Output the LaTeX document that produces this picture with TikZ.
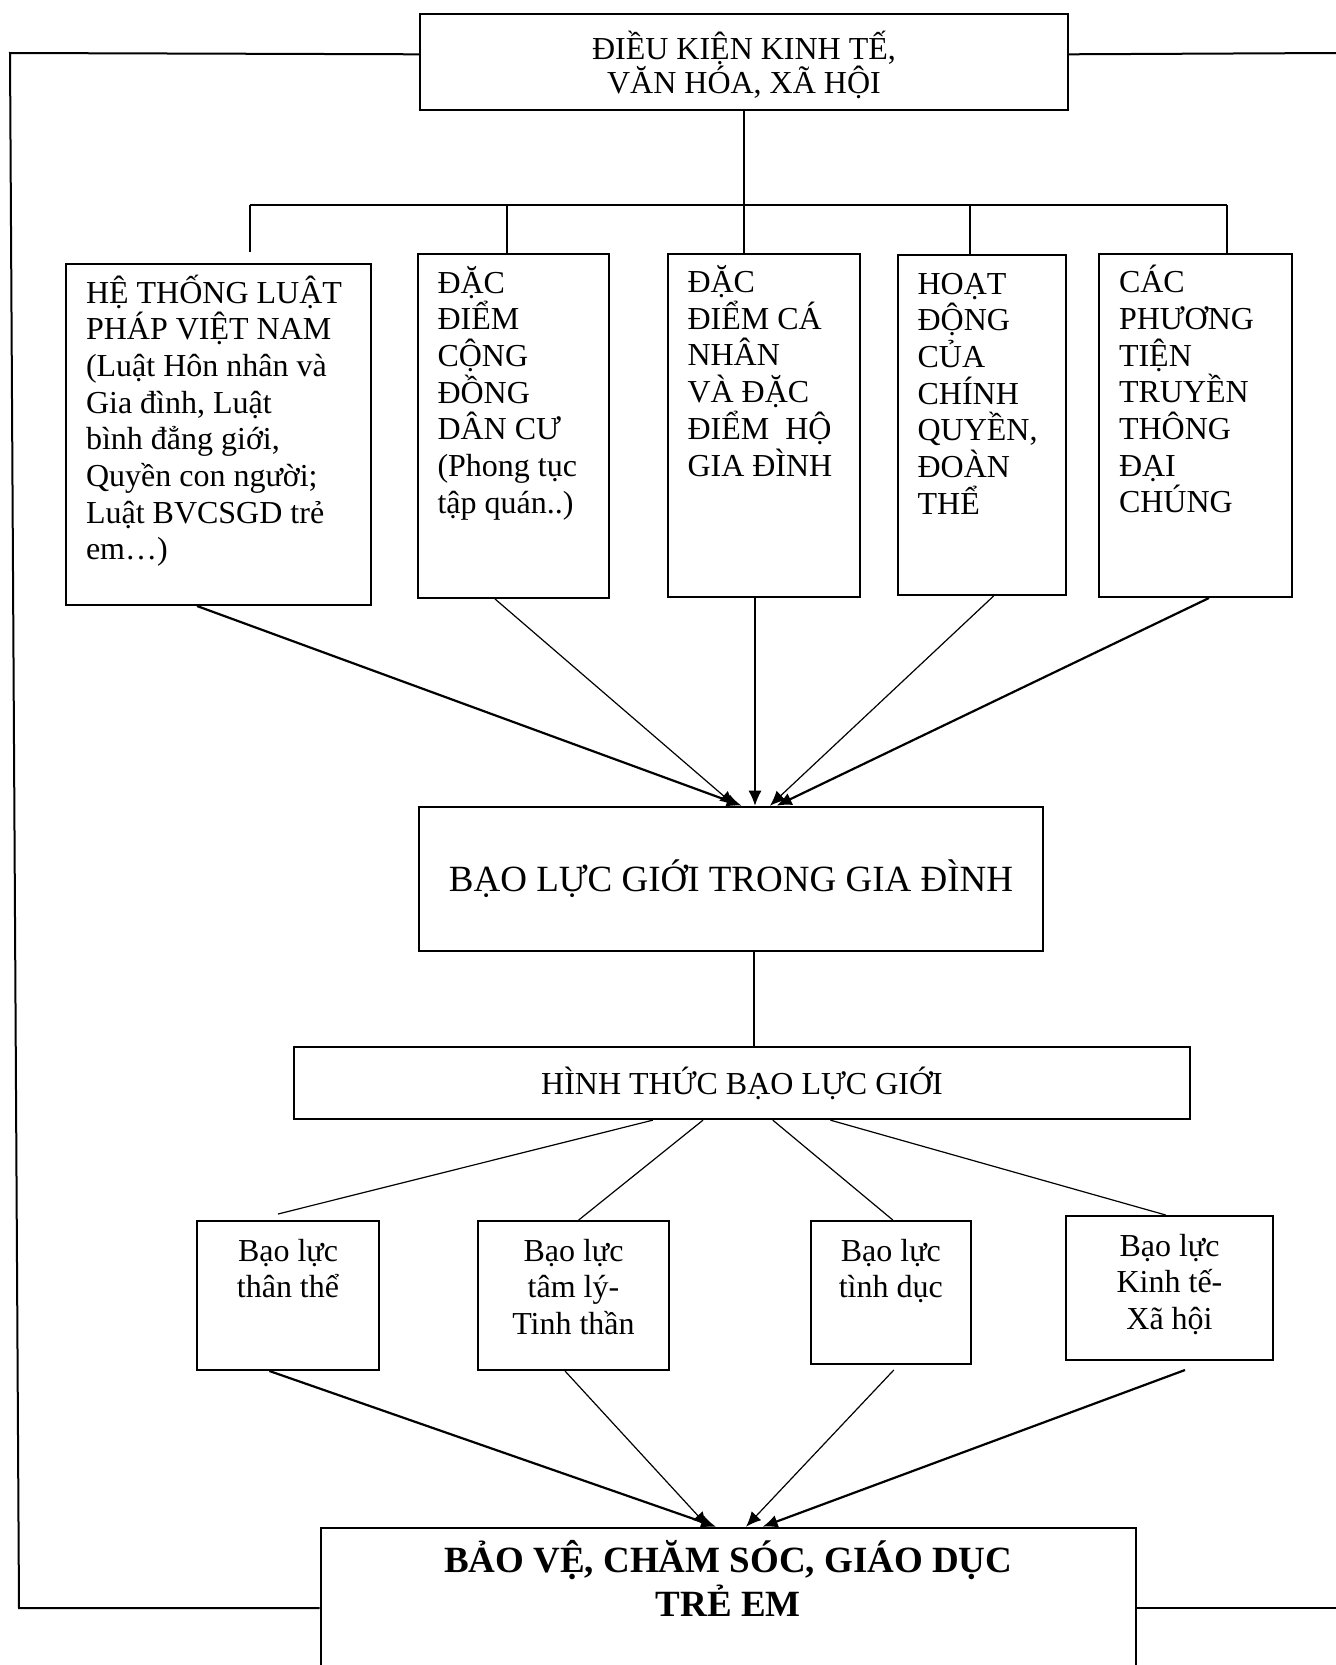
\documentclass[tikz,border=0pt]{standalone}
\usepackage{fontspec}
\setmainfont{Liberation Serif}
\usetikzlibrary{arrows.meta}
\newcommand{\khung}[5]{\parbox[t][#2][t]{#1}{#3\rule{0pt}{#4}#5}}

\begin{document}
\begin{tikzpicture}[x=0.5pt,y=-0.5pt,>={Latex[length=7.5pt,width=6.5pt]}]
	\tikzstyle{hop}=[draw,line width=1pt,inner xsep=0pt,inner ysep=0pt]
	\tikzstyle{cot}=[hop,anchor=north west,inner xsep=10pt,font=\fontsize{16}{18.35}\selectfont]
	\tikzstyle{nho}=[hop,anchor=north west,font=\fontsize{16}{18.35}\selectfont]
	\tikzstyle{nhanh}=[line width=0.6pt]
	\tikzstyle{muiten}=[line width=1.1pt]
	\tikzstyle{muitenmanh}=[line width=0.6pt]
	\useasboundingbox (0,0) rectangle (1336,1665);
	\clip (0,0) rectangle (1336,1665);
	\begin{scope}
		\node [hop,anchor=north west,font=\fontsize{16}{17}\selectfont] (dieukien) at (419,13.3)
			{\khung{324pt}{48pt}{\centering}{22.75pt}{ĐIỀU KIỆN KINH TẾ,\\ VĂN HÓA, XÃ HỘI}};

		\node [cot] (luat) at (65,263) {\khung{132.5pt}{170.5pt}{\raggedright}{19.5pt}{HỆ THỐNG LUẬT\\ PHÁP VIỆT NAM\\ (Luật Hôn nhân và\\ Gia đình, Luật\\ bình đẳng giới,\\ Quyền con người;\\ Luật BVCSGD trẻ\\ em…)}};
		\node [cot] (dancu) at (416.5,253) {\khung{75.75pt}{172pt}{\raggedright}{19.5pt}{ĐẶC\\ ĐIỂM\\ CỘNG\\ ĐỒNG\\ DÂN CƯ\\ (Phong tục\\ tập quán..)}};
		\node [cot] (canhan) at (666.5,252.5) {\khung{76pt}{171.75pt}{\raggedright}{19.5pt}{ĐẶC\\ ĐIỂM CÁ\\ NHÂN\\ VÀ ĐẶC\\ ĐIỂM\ \ HỘ\\ GIA ĐÌNH}};
		\node [cot] (chinhquyen) at (896.6,254) {\khung{64pt}{170pt}{\raggedright}{19.5pt}{HOẠT\\ ĐỘNG\\ CỦA\\ CHÍNH\\ QUYỀN,\\ ĐOÀN\\ THỂ}};
		\node [cot] (truyenthong) at (1098,252.7) {\khung{76.3pt}{171.65pt}{\raggedright}{19.5pt}{CÁC\\ PHƯƠNG\\ TIỆN\\ TRUYỀN\\ THÔNG\\ ĐẠI\\ CHÚNG}};

		\node [hop,minimum width=312pt,minimum height=72pt,font=\fontsize{18.5}{22}\selectfont] (baoluc) at (731,878.7) {BẠO LỰC GIỚI TRONG GIA ĐÌNH};
		\node [hop,minimum width=448pt,minimum height=36.15pt,font=\fontsize{16}{18.35}\selectfont] (hinhthuc) at (742,1083) {HÌNH THỨC BẠO LỰC GIỚI};

		\node [nho] (thanthe) at (196,1220) {\khung{91pt}{74.5pt}{\centering}{20pt}{Bạo lực\\ thân thể}};
		\node [nho] (tamly) at (477,1220) {\khung{95.5pt}{74.5pt}{\centering}{20pt}{Bạo lực\\ tâm lý-\\ Tinh thần}};
		\node [nho] (tinhduc) at (810,1220) {\khung{79.8pt}{71.5pt}{\centering}{20pt}{Bạo lực\\ tình dục}};
		\node [nho] (kinhte) at (1065,1215) {\khung{103.5pt}{72pt}{\centering}{20pt}{Bạo lực\\ Kinh tế-\\ Xã hội}};

		\node [hop,anchor=north west,font=\fontsize{18.5}{21.7}\selectfont\bfseries] (baove) at (319.5,1526.7)
			{\khung{407.75pt}{80pt}{\centering}{22.5pt}{BẢO VỆ, CHĂM SÓC, GIÁO DỤC\\ TRẺ EM}};

		% nhanh tren
		\coordinate (r1) at (250,205);
		\coordinate (r2) at (507,205);
		\coordinate (r4) at (970,205);
		\coordinate (r5) at (1227,205);
		\coordinate (c1) at (250,252);
		\draw[nhanh] (dieukien.south) -- (dieukien.south |- canhan.north);
		\draw[line width=1pt] (r1) -- (r5);
		\draw[nhanh] (r1) -- (c1);
		\draw[nhanh] (r2) -- (r2 |- dancu.north);
		\draw[nhanh] (r4) -- (r4 |- chinhquyen.north);
		\draw[nhanh] (r5) -- (r5 |- truyenthong.north);

		% vao bao luc
		\draw[muiten,->] ([xshift=-10.75pt]luat.south) -- ([xshift=5.35pt]baoluc.north);
		\draw[muitenmanh,->] ([xshift=-9.1pt]dancu.south) -- ([xshift=2pt]baoluc.north);
		\draw[muitenmanh,->] ([xshift=-4.25pt]canhan.south) -- ([xshift=-4.25pt]canhan.south |- baoluc.north);
		\draw[muitenmanh,->] ([xshift=6pt]chinhquyen.south) -- ([xshift=19.5pt]baoluc.north);
		\draw[muiten,->] ([xshift=6.85pt]truyenthong.south) -- ([xshift=22.85pt]baoluc.north);

		\draw[nhanh] ([xshift=11.5pt]baoluc.south) -- ([xshift=11.5pt]baoluc.south |- hinhthuc.north);

		% hinh thuc
		\draw[nhanh] ([xshift=-44.6pt]hinhthuc.south) -- ([xshift=-5pt,yshift=3pt]thanthe.north);
		\draw[nhanh] ([xshift=-19.5pt]hinhthuc.south) -- ([xshift=2.6pt]tamly.north);
		\draw[nhanh] ([xshift=15.4pt]hinhthuc.south) -- ([xshift=1pt]tinhduc.north);
		\draw[nhanh] ([xshift=44.2pt]hinhthuc.south) -- ([xshift=-1.9pt]kinhte.north);

		% vao bao ve
		\draw[muiten,->] ([xshift=-9.3pt]thanthe.south) -- ([xshift=-6.1pt]baove.north);
		\draw[muitenmanh,->] ([xshift=-4.25pt]tamly.south) -- ([xshift=-10.1pt]baove.north);
		\draw[muitenmanh,->] ([xshift=1.5pt,yshift=-2.5pt]tinhduc.south) -- ([xshift=8.9pt]baove.north);
		\draw[muiten,->] ([xshift=7.75pt,yshift=-4.5pt]kinhte.south) -- ([xshift=17.2pt]baove.north);

		% vong ngoai
		\coordinate (g1) at (10,53);
		\coordinate (g2) at (19,1608);
		\coordinate (g3) at (1336,53);
		\coordinate (g4) at (1336,1608);
		\draw[line width=1pt] ([yshift=4pt]dieukien.west) -- (g1) -- (g2) -- (g2 -| baove.west);
		\draw[line width=1pt] ([yshift=4pt]dieukien.east) -- (g3);
		\draw[line width=1pt] (g2 -| baove.east) -- (g4);
	\end{scope}
\end{tikzpicture}
\end{document}
